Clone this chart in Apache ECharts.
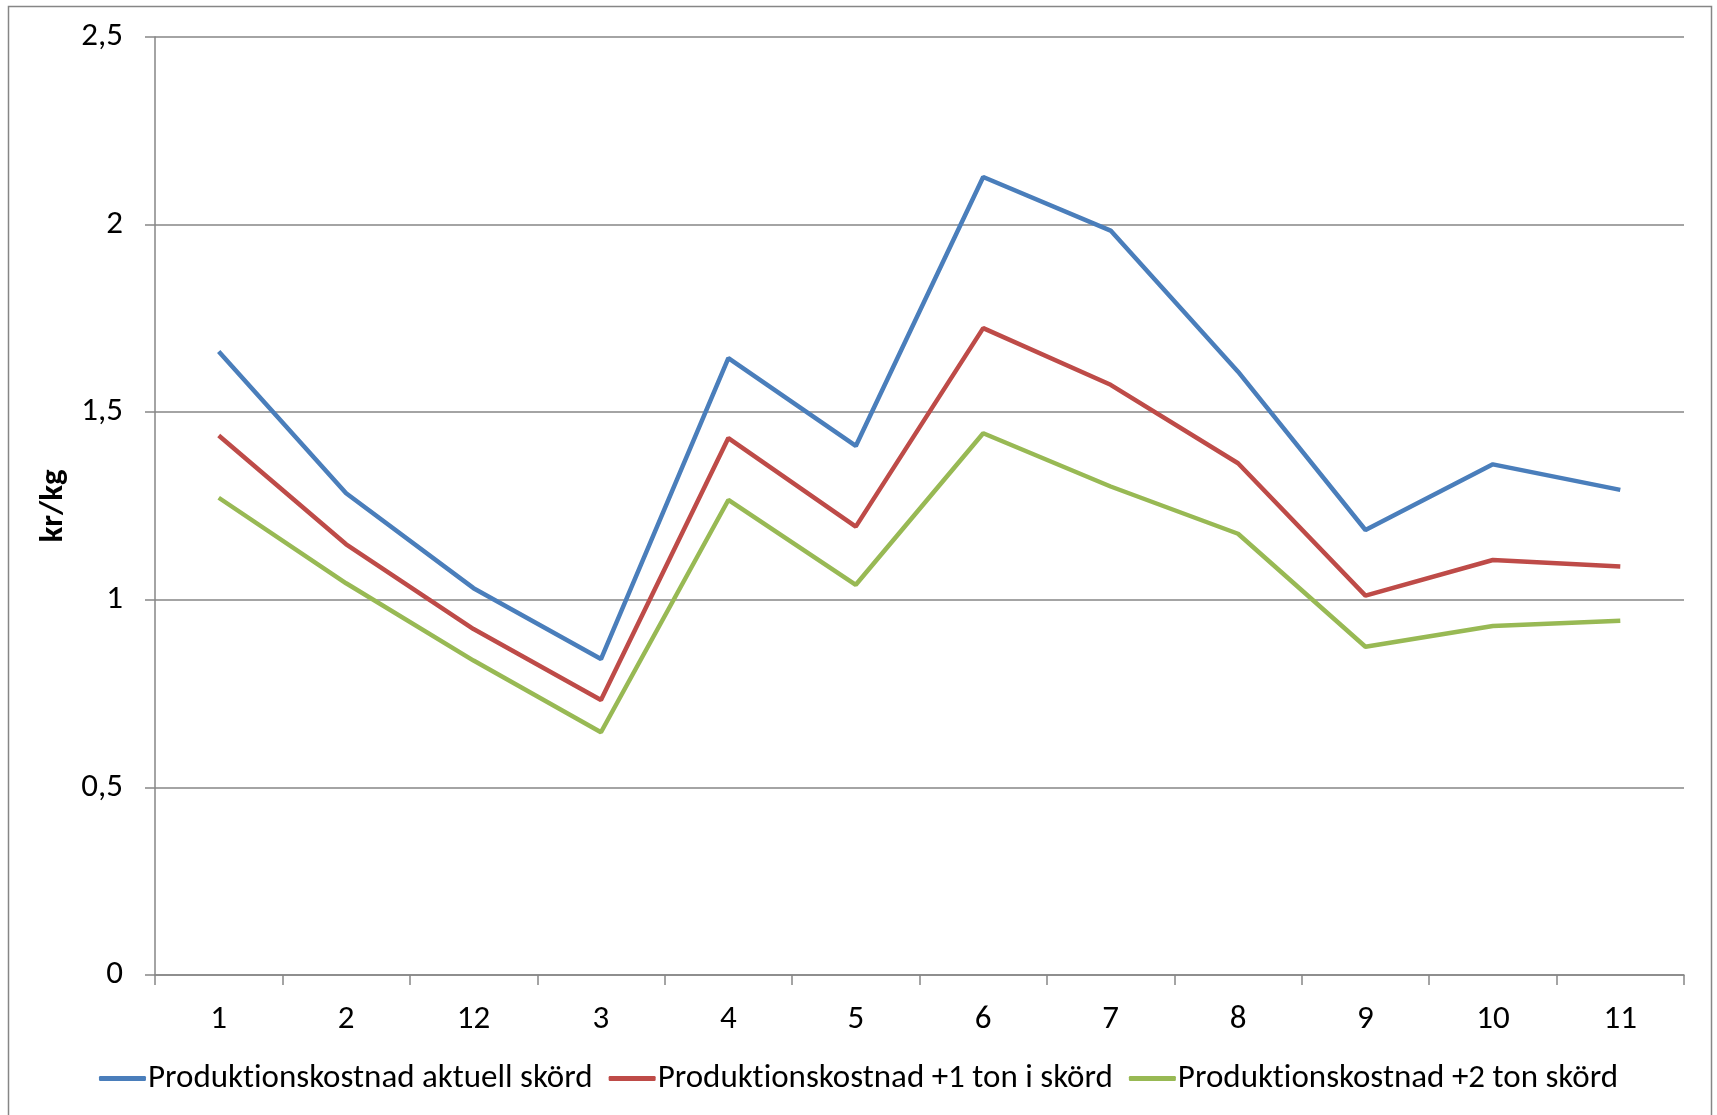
<!DOCTYPE html>
<html>
<head>
<meta charset="utf-8">
<script src="https://cdn.jsdelivr.net/npm/echarts@6/dist/echarts.min.js"></script>
<style>
html,body{margin:0;padding:0;background:#fff;}
#chart{width:1717px;height:1115px;}
</style>
</head>
<body>
<div id="chart"></div>
<script>
const categories = ['1','2','12','3','4','5','6','7','8','9','10','11'];
const seriesNames = ['Produktionskostnad aktuell skörd','Produktionskostnad +1 ton i skörd','Produktionskostnad +2 ton skörd'];
const aktuell = [1.662,1.284,1.031,0.842,1.644,1.410,2.127,1.984,1.608,1.186,1.361,1.293];
const plus1 = [1.438,1.148,0.922,0.733,1.431,1.195,1.724,1.573,1.364,1.011,1.106,1.089];
const plus2 = [1.272,1.044,0.838,0.647,1.266,1.040,1.444,1.302,1.176,0.875,0.930,0.944];
const colors = ['#4A7EBB','#BE4B48','#98B954'];
const yTicks = {min:0, max:2.5, interval:0.5};

// render text without typographic ligatures (as in the original)
(function(){
  const P = CanvasRenderingContext2D.prototype;
  ['fillText','strokeText','measureText'].forEach(fn => {
    const orig = P[fn];
    P[fn] = function(){
      try { if ('textRendering' in this) this.textRendering = 'optimizeSpeed'; } catch(e){}
      return orig.apply(this, arguments);
    };
  });
})();

const FONT = "Carlito, Calibri, 'Liberation Sans Narrow', 'Open Sans', sans-serif";
const chart = echarts.init(document.getElementById('chart'), null, {renderer:'canvas'});
const values = [aktuell, plus1, plus2];
chart.setOption({
  animation:false,
  backgroundColor:'#ffffff',
  graphic:[{type:'rect', shape:{x:8.5,y:6.5,width:1703,height:1120}, style:{fill:'none', stroke:'#868686', lineWidth:1.5}, z:-1}],
  grid:{left:155, right:33, top:37, bottom:140, containLabel:false},
  legend:{
    bottom:15, left:'center',
    itemWidth:47, itemHeight:5, itemGap:16,
    icon:'roundRect',
    textStyle:{fontFamily:FONT, fontSize:33, color:'#000', padding:[0,0,0,-3]},
    data: seriesNames
  },
  xAxis:{
    type:'category', data:categories, boundaryGap:true,
    axisLine:{lineStyle:{color:'#868686', width:1.5}},
    axisTick:{show:true, alignWithLabel:false, length:10, lineStyle:{color:'#868686', width:1.5}},
    axisLabel:{fontFamily:FONT, fontSize:33, color:'#000', margin:28}
  },
  yAxis:{
    type:'value', min:yTicks.min, max:yTicks.max, interval:yTicks.interval,
    name:'kr/kg', nameLocation:'middle', nameGap:74,
    nameTextStyle:{fontFamily:FONT, fontSize:33, fontWeight:'bold', color:'#000'},
    axisLine:{show:true, lineStyle:{color:'#868686', width:1.5}},
    axisTick:{show:true, length:10, lineStyle:{color:'#868686', width:1.5}},
    splitLine:{show:true, lineStyle:{color:'#868686', width:1.5}},
    axisLabel:{fontFamily:FONT, fontSize:33, color:'#000', margin:32,
      formatter: v => String(v).replace('.', ',')}
  },
  series: seriesNames.map((n,i)=>({
    name:n, type:'line', data:values[i], symbol:'none', smooth:false,
    lineStyle:{color:colors[i], width:4.5}, itemStyle:{color:colors[i]}
  }))
});
</script>
</body>
</html>
